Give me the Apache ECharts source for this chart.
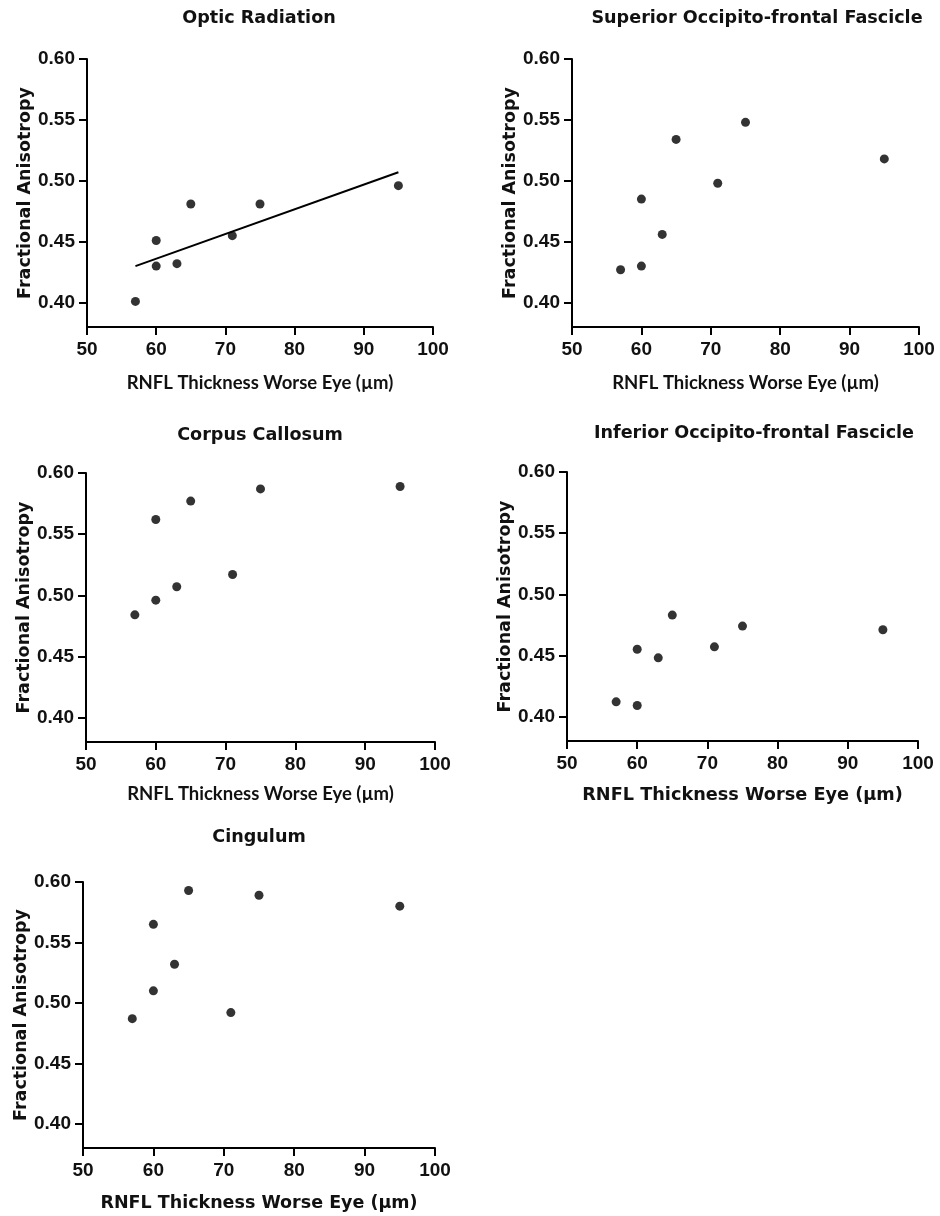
<!DOCTYPE html>
<html>
<head>
<meta charset="utf-8">
<script src="https://cdn.jsdelivr.net/npm/echarts@6/dist/echarts.min.js"></script>
<style>
html,body{margin:0;padding:0;background:#fff;}
#c{width:940px;height:1216px;}
</style>
</head>
<body>
<div id="c"></div>
<script>
// ---- data ----
const panelTitles = [
  'Optic Radiation',
  'Superior Occipito-frontal Fascicle',
  'Corpus Callosum',
  'Inferior Occipito-frontal Fascicle',
  'Cingulum'
];
const rnfl = [57, 60, 60, 63, 65, 71, 75, 95];
const faOpticRadiation = [0.401, 0.451, 0.430, 0.432, 0.481, 0.455, 0.481, 0.496];
const faSuperiorOF     = [0.427, 0.485, 0.430, 0.456, 0.534, 0.498, 0.548, 0.518];
const faCorpusCallosum = [0.484, 0.562, 0.496, 0.507, 0.577, 0.517, 0.587, 0.589];
const faInferiorOF     = [0.412, 0.455, 0.409, 0.448, 0.483, 0.457, 0.474, 0.471];
const faCingulum       = [0.487, 0.565, 0.510, 0.532, 0.593, 0.492, 0.589, 0.580];
// regression line of Optic Radiation panel (endpoints)
const fitX = [57, 95];
const fitY = [0.430, 0.507];
const yTicks = [0.40, 0.45, 0.50, 0.55, 0.60];
const xTicks = [50, 60, 70, 80, 90, 100];
const xName = 'RNFL Thickness Worse Eye (\u00b5m)';
const yName = 'Fractional Anisotropy';

// ---- layout ----
const seriesY = [faOpticRadiation, faSuperiorOF, faCorpusCallosum, faInferiorOF, faCingulum];
const grids = [
  {left: 87,  top: 59,  width: 346, height: 268},
  {left: 572, top: 59,  width: 347, height: 268},
  {left: 86,  top: 473, width: 349, height: 269},
  {left: 567, top: 472, width: 351, height: 269},
  {left: 83,  top: 882, width: 352, height: 266}
];
const titlePos = [[259, 9], [757, 9], [260, 426], [754, 424], [259, 828]];
const xNameGap = [47, 47, 43, 45, 46];
const xNameFont = [
  {fontFamily: 'Lato', fontSize: 18.5, fontWeight: 'bold'},
  {fontFamily: 'Lato', fontSize: 18.5, fontWeight: 'bold'},
  {fontFamily: 'Lato', fontSize: 18.5, fontWeight: 'bold'},
  {fontFamily: 'DejaVu Sans', fontSize: 17.7, fontWeight: 'bold'},
  {fontFamily: 'DejaVu Sans', fontSize: 17.5, fontWeight: 'bold'}
];
const yNameGap = [53, 52, 52, 52, 49];

const axisLine = {show: true, lineStyle: {color: '#000', width: 2}};
const axisTick = {show: true, length: 8, lineStyle: {color: '#000', width: 2}};
const labelFont = {fontFamily: 'Liberation Sans', fontWeight: 'bold', fontSize: 19, color: '#111'};

const option = {
  backgroundColor: '#fff',
  animation: false,
  title: panelTitles.map((t, i) => ({
    text: t, left: titlePos[i][0], top: titlePos[i][1], textAlign: 'center', padding: 0,
    textStyle: {fontFamily: 'DejaVu Sans', fontWeight: 'bold', fontSize: 17.6, color: '#111'}
  })),
  grid: grids.map(g => Object.assign({containLabel: false}, g)),
  xAxis: grids.map((g, i) => ({
    type: 'value', gridIndex: i, min: xTicks[0], max: xTicks[xTicks.length - 1], interval: 10,
    name: xName, nameLocation: 'middle', nameGap: xNameGap[i],
    nameTextStyle: Object.assign({color: '#111'}, xNameFont[i]),
    axisLine: axisLine, axisTick: axisTick, splitLine: {show: false},
    axisLabel: Object.assign({margin: 13}, labelFont)
  })),
  yAxis: grids.map((g, i) => ({
    type: 'value', gridIndex: i, min: 0.38, max: 0.60,
    name: yName, nameLocation: 'middle', nameGap: yNameGap[i],
    nameTextStyle: {fontFamily: 'DejaVu Sans', fontWeight: 'bold', fontSize: 17.5, color: '#111'},
    axisLine: axisLine,
    axisTick: Object.assign({customValues: yTicks}, axisTick),
    splitLine: {show: false},
    axisLabel: Object.assign({margin: 12, customValues: yTicks, formatter: v => v.toFixed(2)}, labelFont)
  })),
  series: seriesY.map((ys, i) => ({
    type: 'scatter', xAxisIndex: i, yAxisIndex: i,
    symbol: 'circle', symbolSize: 9,
    itemStyle: {color: '#000'},
    data: rnfl.map((x, k) => [x, ys[k]])
  })).concat([{
    type: 'line', xAxisIndex: 0, yAxisIndex: 0, symbol: 'none',
    lineStyle: {color: '#000', width: 2},
    data: fitX.map((x, k) => [x, fitY[k]])
  }])
};

const chart = echarts.init(document.getElementById('c'), null, {renderer: 'canvas'});
chart.setOption(option);
</script>
</body>
</html>
